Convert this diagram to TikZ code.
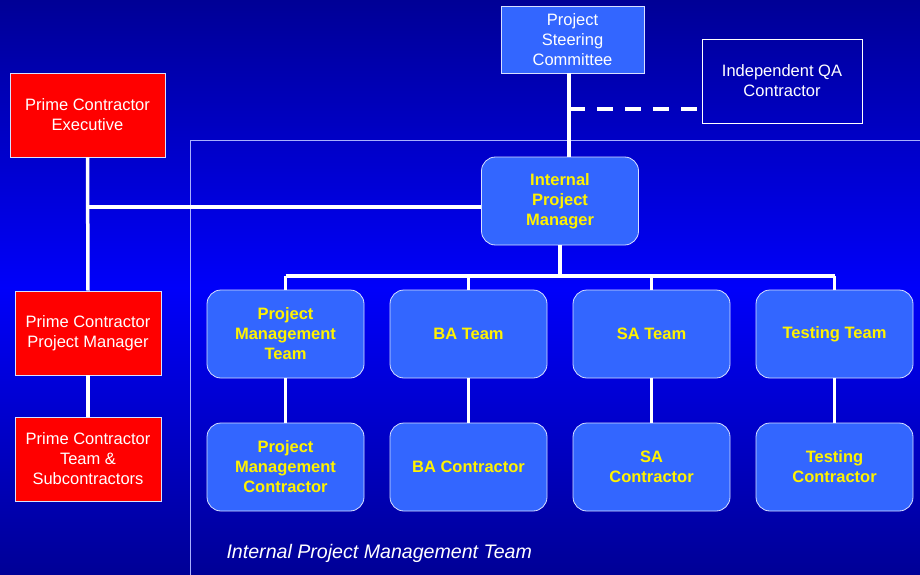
\documentclass[tikz,border=0pt]{standalone}
\usepackage{fontspec}
\setmainfont{Liberation Sans}
\usepackage{tikz}
\usetikzlibrary{positioning}

\definecolor{boxblue}{HTML}{3366FF}
\definecolor{bgdark}{HTML}{000096}
\definecolor{bgbright}{HTML}{0000FA}
\definecolor{framecol}{HTML}{A8B0FF}
\definecolor{edgecol}{HTML}{D8E0FF}

\tikzset{
    boxtext/.style={align=center, font=\fontsize{16.5}{20}\selectfont},
    redbox/.style={boxtext, draw=edgecol, fill=red, line width=0.8pt, text=white,
        minimum width=146, minimum height=84},
    steerbox/.style={boxtext, draw=edgecol, fill=boxblue, line width=0.8pt, text=white,
        minimum width=143, minimum height=67},
    qabox/.style={boxtext, draw=white, line width=0.8pt, text=white,
        minimum width=160, minimum height=84},
    teambox/.style={boxtext, font=\fontsize{16.5}{20}\selectfont\bfseries, draw=edgecol, fill=boxblue,
        line width=0.8pt, text=yellow, rounded corners=14, minimum width=157, minimum height=88},
    link/.style={draw=white, line width=3.5pt},
}

\begin{document}
\begin{tikzpicture}[x=1pt, y=-1pt]
    % background
    \shade[top color=bgdark, bottom color=bgdark, middle color=bgbright] (0,0) rectangle (920,575);
    \useasboundingbox (0,0) rectangle (920,575);

    % frame of the internal team
    \draw[framecol, line width=1pt] (190,580) -- (190,140) -- (925,140);

    % upper boxes
    \node[steerbox] (psc) at (572.5,39.5) {Project\\Steering\\Committee};
    \node[qabox] (qa) at (782,81) {Independent QA\\Contractor};
    \node[teambox] (ipm) at (560,201) {Internal\\Project\\Manager};

    % prime contractor side
    \node[redbox, minimum width=155] (pce) at (87.5,115) {Prime Contractor\\Executive};
    \node[redbox] (pcpm) at (88,333) {Prime Contractor\\Project Manager};
    \node[redbox] (pct) at (88,459) {Prime Contractor\\Team \&\\Subcontractors};

    % teams and their contractors
    \node[teambox] (pmt) at (285.5,334) {Project\\Management\\Team};
    \node[teambox] (bat) at (468.5,334) {BA Team};
    \node[teambox] (sat) at (651.5,334) {SA Team};
    \node[teambox] (tst) at (834.5,334) {Testing Team};
    \node[teambox] (pmc) at (285.5,467) {Project\\Management\\Contractor};
    \node[teambox] (bac) at (468.5,467) {BA Contractor};
    \node[teambox] (sac) at (651.5,467) {SA\\Contractor};
    \node[teambox] (tsc) at (834.5,467) {Testing\\Contractor};

    % connectors
    \coordinate (spine) at (569,0);
    \coordinate (qaj) at (569,109);
    \coordinate (exj) at (88,207);
    \coordinate (bus) at (560,276);
    \draw[link] (spine |- psc.south) -- (spine |- ipm.north);
    \draw[link, dash pattern=on 16pt off 12pt] (qaj) -- (qaj -| qa.west);
    \draw[link] (pce.south) -- (pcpm.north);
    \draw[link] (pcpm.south) -- (pct.north);
    \draw[link] (exj) -- (exj -| ipm.west);
    \draw[link] (ipm.south) -- (bus);
    \draw[link] (pmt |- bus) -- (tst |- bus);
    \foreach \t/\c in {pmt/pmc, bat/bac, sat/sac, tst/tsc}{
        \draw[link] (\t |- bus) -- (\t.north);
        \draw[link] (\t.south) -- (\c.north);
    }

    \node[anchor=west, text=white, font=\fontsize{19.6}{22}\selectfont\itshape] (lbl) at (223,553)
        {Internal Project Management Team};
\end{tikzpicture}
\end{document}
